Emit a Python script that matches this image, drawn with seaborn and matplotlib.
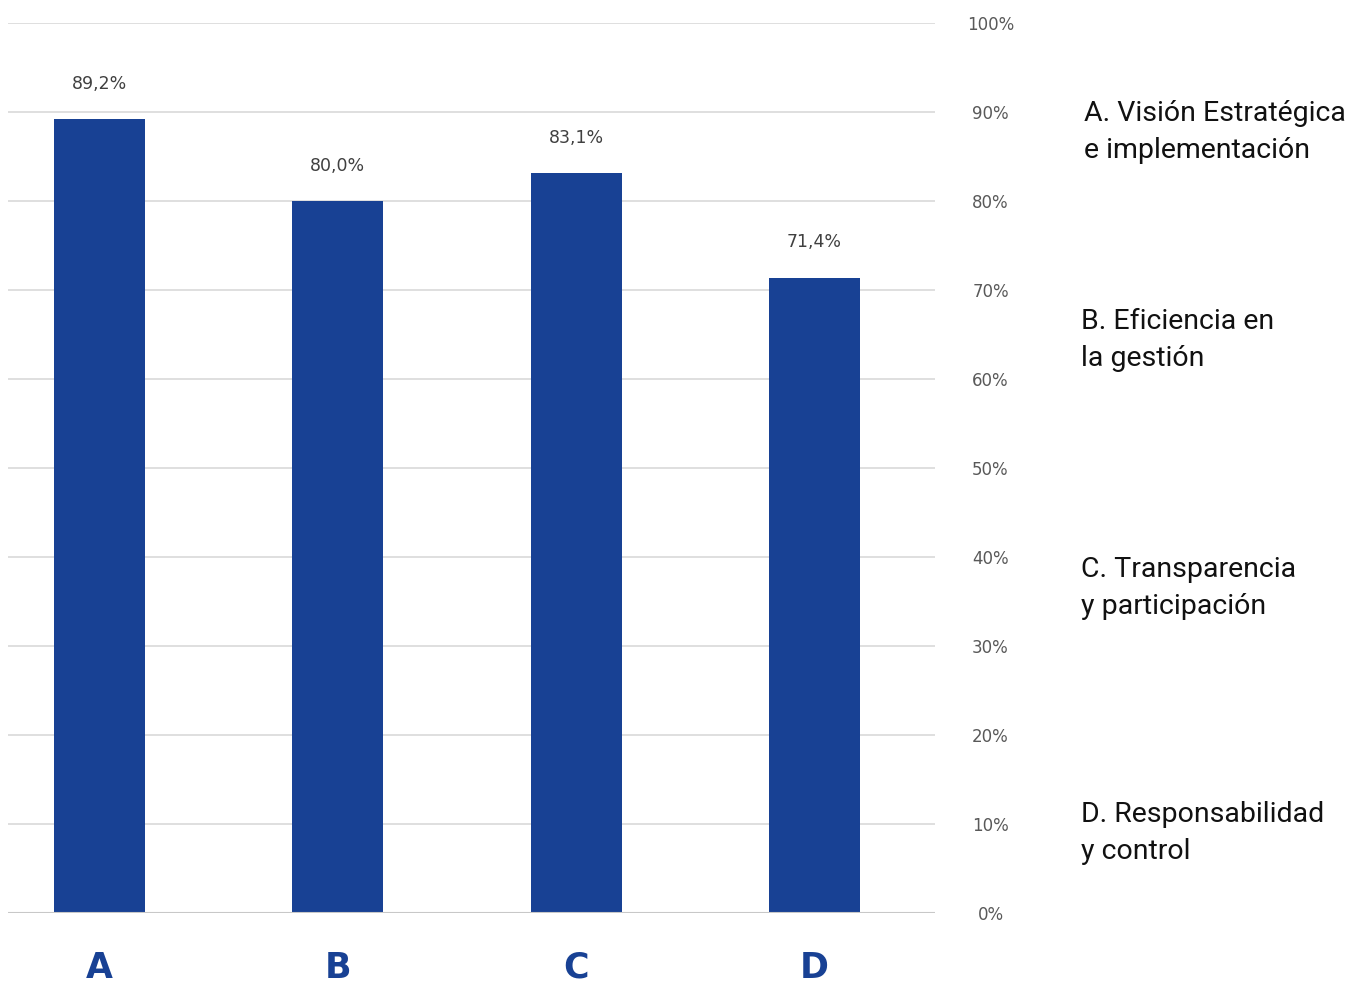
import pandas as pd
import matplotlib.pyplot as plt
import seaborn as sns

sns.set_theme(style="white")

# datos del gráfico
categorias = ['A', 'B', 'C', 'D']
valores = [89.2, 80.0, 83.1, 71.4]
etiquetas = ['89,2%', '80,0%', '83,1%', '71,4%']
descripciones = [
    'A. Visión Estratégica\ne implementación',
    'B. Eficiencia en\nla gestión',
    'C. Transparencia\ny participación',
    'D. Responsabilidad\ny control',
]
ticks_y = list(range(0, 101, 10))

df = pd.DataFrame({'dimension': categorias, 'valor': valores})

azul = '#184194'

fig = plt.figure(figsize=(13.49, 9.82), dpi=100)
ax = fig.add_axes([8 / 1349, 1 - 913 / 982, 927 / 1349, 890 / 982])

sns.barplot(data=df, x='dimension', y='valor', order=categorias,
            color=azul, width=0.382, saturation=1, linewidth=0, ax=ax)

ax.set_xlim(-0.384, 3.506)
ax.set_ylim(0, 100)
ax.set_yticks(ticks_y)
ax.set_yticklabels([f'{t}%' for t in ticks_y])
ax.yaxis.tick_right()
ax.tick_params(axis='y', length=0, pad=40, labelsize=12, labelcolor='#595959')
for lbl in ax.get_yticklabels():
    lbl.set_horizontalalignment('center')

ax.tick_params(axis='x', length=0, pad=27, labelsize=25, labelcolor=azul)
for lbl in ax.get_xticklabels():
    lbl.set_fontweight('heavy')

ax.set_xlabel('')
ax.set_ylabel('')
for s in ax.spines.values():
    s.set_visible(False)

ax.grid(axis='y', color='#d9d9d9', linewidth=1.2)
ax.grid(axis='x', visible=False)
ax.set_axisbelow(True)
ax.axhline(0, color='#c8c8c8', linewidth=1.5, zorder=3)

# etiquetas sobre las barras
for i, (v, t) in enumerate(zip(valores, etiquetas)):
    ax.annotate(t, (i, v), xytext=(0, 19), textcoords='offset points',
                ha='center', va='bottom', fontsize=12.5, color='#404040')

# descripciones a la derecha
pos_y = [132, 340, 588, 833]
pos_x = [1084, 1081, 1081, 1081]
for d, x, y in zip(descripciones, pos_x, pos_y):
    fig.text(x / 1349, 1 - y / 982, d, ha='left', va='center',
             fontsize=20.5, color='#111111', linespacing=1.45,
             family=['Roboto', 'DejaVu Sans'])

fig.savefig('out.png', dpi=100)
